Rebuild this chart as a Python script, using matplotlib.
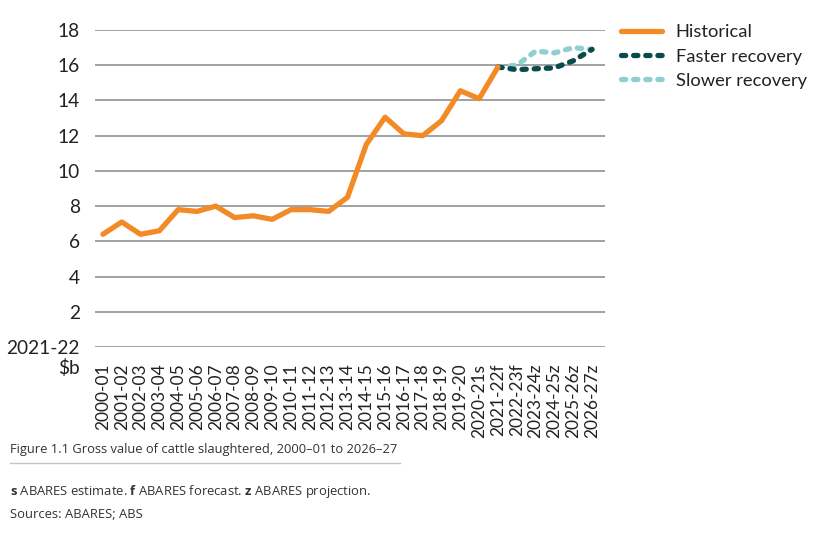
import matplotlib
matplotlib.use("Agg")
import matplotlib.pyplot as plt

plt.rcParams['font.family'] = ['Lato', 'DejaVu Sans']
plt.rcParams['mathtext.fontset'] = 'custom'
plt.rcParams['mathtext.bf'] = 'Open Sans:bold'
plt.rcParams['mathtext.rm'] = 'Open Sans'

# Data, $b in 2021-22 dollars
years = ['2000-01', '2001-02', '2002-03', '2003-04', '2004-05', '2005-06',
         '2006-07', '2007-08', '2008-09', '2009-10', '2010-11', '2011-12',
         '2012-13', '2013-14', '2014-15', '2015-16', '2016-17', '2017-18',
         '2018-19', '2019-20', '2020-21s', '2021-22f', '2022-23f', '2023-24z',
         '2024-25z', '2025-26z', '2026-27z']
historical = [6.4, 7.1, 6.4, 6.6, 7.8, 7.7, 8.0, 7.35, 7.45, 7.25, 7.8, 7.8,
              7.7, 8.5, 11.5, 13.05, 12.1, 12.0, 12.85, 14.55, 14.1, 15.9]
faster = [15.9, 15.75, 15.8, 15.85, 16.25, 16.9]
slower = [15.9, 16.0, 16.8, 16.7, 17.0, 16.9]
yticks = [0, 2, 4, 6, 8, 10, 12, 14, 16, 18]

orange = '#f28a26'
dark_teal = '#0b4a4c'
light_teal = '#8fcfd2'
text_col = '#222222'

fig = plt.figure(figsize=(8.17, 5.35), dpi=100)
ax = fig.add_axes([0.1163, 0.3514, 0.6242, 0.5925])

x_hist = list(range(len(historical)))
x_proj = list(range(len(historical) - 1, len(years)))

ax.plot(x_proj, slower, color=light_teal, lw=3.8, linestyle=(0, (0.8, 1.5)),
        dash_capstyle='round', label='Slower recovery', zorder=3)
ax.plot(x_proj, faster, color=dark_teal, lw=3.8, linestyle=(0, (0.8, 1.5)),
        dash_capstyle='round', label='Faster recovery', zorder=4)
ax.plot(x_hist, historical, color=orange, lw=3.8, solid_capstyle='round',
        label='Historical', zorder=5)

ax.set_ylim(0, 18)
ax.set_xlim(-0.42, len(years) - 0.31)
ax.set_yticks(yticks)
ax.set_yticklabels(['2021-22'] + [str(v) for v in yticks[1:]])
ax.set_xticks(range(len(years)))
ax.set_xticklabels(years, rotation=90, fontsize=12.5, color=text_col)
ax.tick_params(axis='y', length=0, pad=11, labelsize=13.8, labelcolor=text_col)
ax.tick_params(axis='x', length=0, pad=12)
ax.grid(axis='y', color='#9a9a9a', lw=1.3)
ax.set_axisbelow(True)
for s in ax.spines.values():
    s.set_visible(False)

fig.text(80 / 817, 1 - 368 / 535, r'\$b', ha='right', va='center',
         fontsize=13.8, color=text_col)

h, l = ax.get_legend_handles_labels()
order = [2, 1, 0]
ax.legend([h[i] for i in order], [l[i] for i in order], loc='upper left',
          bbox_to_anchor=(1.0, 1.07), frameon=False, fontsize=13.2,
          handlelength=2.2, handletextpad=0.75, labelspacing=0.45,
          labelcolor=text_col)

# Caption and notes
fig.text(10 / 817, 1 - 450 / 535,
         'Figure 1.1 Gross value of cattle slaughtered, 2000\u201301 to 2026\u201327',
         fontsize=9.3, color='#333333', va='center', family='Open Sans')
fig.add_artist(plt.Line2D([10 / 817, 400 / 817], [1 - 463 / 535, 1 - 463 / 535],
                          color='#c4c4c4', lw=1))
fig.text(10 / 817, 1 - 491 / 535,
         r'$\mathbf{s}$ ABARES estimate. $\mathbf{f}$ ABARES forecast. $\mathbf{z}$ ABARES projection.',
         fontsize=9.4, color='#333333', va='center', family='Open Sans')
fig.text(10 / 817, 1 - 514 / 535, 'Sources: ABARES; ABS',
         fontsize=9.4, color='#333333', va='center', family='Open Sans')

fig.savefig('out.png', dpi=100)
